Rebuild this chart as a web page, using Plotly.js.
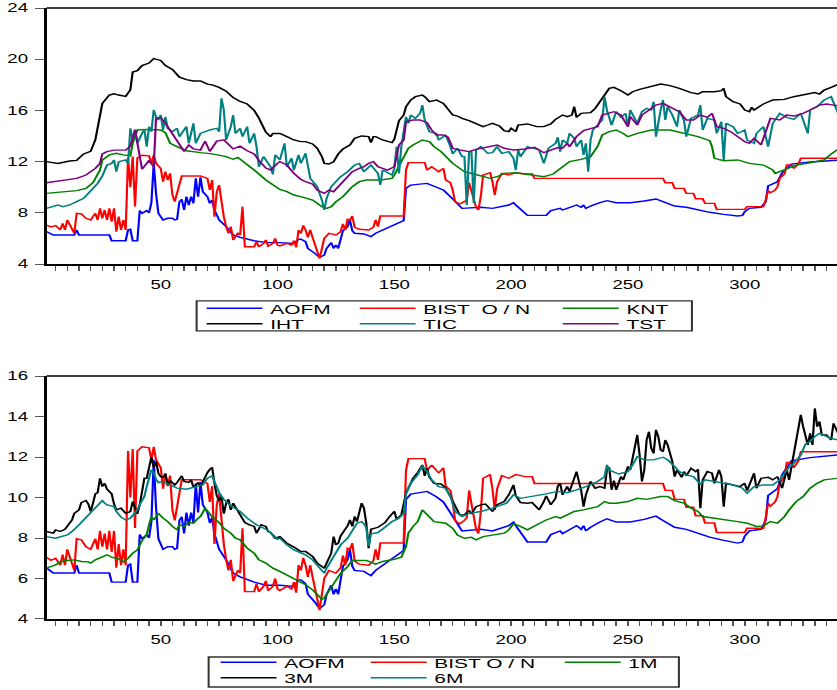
<!DOCTYPE html>
<html><head><meta charset="utf-8">
<script src="https://cdn.plot.ly/plotly-3.0.1.min.js"></script>
<style>
html,body{margin:0;padding:0;background:#fff;overflow:hidden;width:837px;height:690px}
#wrap{width:540px;height:690px;transform:scale(1.55,1);transform-origin:0 0}
</style></head><body><div id="wrap"><div id="chart"></div></div>
<script>
// ---------- data: [observation, value] ----------
const aofm = [[1,6.53],[4,6.27],[13,6.27],[14,6.66],[15,6.27],[28,6.27],[29,5.82],[35,5.82],[36,6.66],[37,6.71],[38,5.82],[40,5.82],[41,8.17],[42,7.96],[44,8.17],[45,8.0],[46,8.8],[47,11.86],[48,9.5],[49,7.96],[51,7.44],[53,7.57],[55,7.57],[56,7.44],[57,7.49],[58,8.87],[59,9.05],[60,8.22],[61,9.26],[62,8.61],[63,9.26],[64,8.74],[65,10.69],[66,9.26],[67,10.77],[68,9.65],[70,9.26],[71,8.74],[72,9.0],[73,8.22],[75,7.44],[78,6.92],[81,6.27],[84,6.08],[90,5.82],[95,5.67],[101,5.67],[107,5.61],[109,5.93],[110,5.93],[112,5.74],[113,5.22],[116,4.83],[118,4.52],[120,4.7],[121,5.22],[123,5.67],[124,5.22],[125,5.48],[126,5.22],[127,5.93],[128,6.6],[130,6.92],[131,7.44],[132,6.6],[133,6.4],[137,6.35],[140,6.14],[142,6.4],[145,6.66],[148,6.92],[151,7.18],[154,7.39],[155,9.91],[157,10.17],[164,10.3],[168,10.04],[171,9.78],[174,9.26],[177,8.69],[179,8.35],[187,8.43],[192,8.35],[199,8.61],[201,8.79],[202,8.61],[205,8.09],[207,7.8],[215,7.8],[217,8.17],[221,8.35],[222,8.22],[224,8.35],[228,8.61],[230,8.43],[231,8.61],[232,8.35],[234,8.53],[238,8.79],[241,8.95],[245,8.79],[251,8.79],[257,8.92],[262,9.08],[265,8.87],[270,8.53],[275,8.43],[280,8.22],[285,8.04],[291,7.88],[297,7.75],[299,7.8],[300,8.09],[302,8.35],[307,8.43],[309,8.87],[310,10.1],[314,10.43],[316,11.13],[318,11.47],[320,11.81],[328,11.97],[342,12.13]];

const bist = [[1,7.05],[3,6.9],[5,7.0],[7,6.66],[8,7.18],[9,6.66],[10,7.44],[12,6.66],[13,6.4],[14,7.96],[16,7.91],[18,7.57],[20,7.44],[22,7.96],[23,7.44],[24,8.35],[25,7.57],[26,8.22],[27,7.44],[28,8.35],[29,7.31],[30,8.35],[31,6.53],[32,7.7],[33,6.66],[34,7.44],[35,6.66],[36,12.3],[37,10.0],[38,12.4],[39,8.5],[40,12.3],[42,12.5],[45,12.45],[46,11.86],[47,12.5],[48,11.86],[50,11.47],[51,10.43],[52,11.21],[53,10.56],[54,11.08],[55,9.39],[56,8.87],[57,9.52],[58,10.3],[59,10.88],[67,10.88],[70,10.69],[71,9.78],[72,10.56],[73,7.7],[74,9.65],[75,10.17],[76,8.61],[77,7.7],[78,6.92],[79,6.4],[80,6.92],[81,5.88],[83,6.4],[84,6.27],[85,8.48],[86,5.35],[90,5.35],[91,5.74],[92,5.35],[94,5.61],[95,5.88],[96,5.4],[98,5.61],[99,6.0],[100,5.48],[101,5.41],[104,5.61],[106,5.48],[107,5.82],[108,5.3],[109,6.66],[110,6.4],[111,7.02],[112,6.66],[113,6.08],[114,6.66],[115,6.08],[116,5.48],[117,4.83],[118,4.44],[119,5.22],[120,6.0],[122,6.4],[125,6.27],[127,6.53],[128,7.13],[129,6.66],[130,7.49],[131,7.44],[132,7.75],[133,6.86],[135,6.71],[139,6.66],[141,6.86],[142,7.44],[143,6.92],[144,7.75],[154,7.75],[155,11.34],[156,11.92],[163,11.92],[164,11.34],[166,11.6],[169,11.21],[171,11.47],[172,10.56],[174,10.35],[175,9.78],[176,8.87],[178,8.69],[180,8.87],[181,9.0],[182,10.35],[183,9.78],[185,8.43],[186,8.22],[187,9.26],[188,10.95],[191,11.13],[192,10.43],[193,9.39],[194,10.43],[196,11.08],[199,10.95],[202,11.13],[206,11.03],[209,11.03],[210,10.69],[265,10.69],[266,10.35],[269,10.35],[270,9.91],[274,9.91],[275,9.52],[278,9.52],[279,9.1],[282,9.1],[283,8.74],[287,8.74],[288,8.27],[300,8.27],[301,8.48],[308,8.48],[309,9.0],[310,9.73],[311,9.57],[313,9.78],[314,10.04],[315,10.69],[317,11.03],[318,11.73],[320,11.73],[321,11.47],[323,11.81],[324,12.26],[342,12.26]];

const knt = [[1,9.52],[10,9.65],[14,9.73],[18,9.9],[21,10.35],[24,11.34],[25,12.13],[28,12.52],[31,12.65],[34,12.52],[37,12.44],[38,13.43],[40,14.47],[44,14.52],[50,14.47],[52,14.26],[54,13.43],[57,13.17],[61,12.85],[67,12.7],[72,12.6],[78,12.39],[81,12.18],[83,12.33],[85,12.07],[90,11.34],[95,10.56],[101,9.83],[104,9.65],[107,9.39],[110,9.26],[112,9.13],[115,9.0],[117,8.74],[119,8.48],[121,8.35],[123,8.48],[125,8.87],[128,9.26],[130,9.65],[132,10.04],[135,10.43],[138,10.56],[144,10.56],[149,10.69],[150,10.95],[152,11.6],[154,12.39],[156,13.04],[158,13.3],[161,13.56],[162,13.69],[165,13.56],[167,13.17],[170,12.78],[172,12.39],[175,11.86],[178,11.47],[180,11.21],[184,11.03],[188,10.82],[191,10.69],[194,10.82],[197,11.08],[202,11.13],[208,10.95],[214,10.82],[218,11.03],[220,11.3],[222,11.6],[225,12.0],[230,12.18],[234,12.39],[237,13.17],[239,14.08],[242,14.34],[245,14.47],[248,14.2],[250,13.95],[254,14.2],[260,14.47],[268,14.47],[274,14.2],[280,13.95],[285,13.64],[286,13.17],[287,12.26],[291,12.07],[297,12.13],[302,11.86],[308,11.73],[312,11.34],[313,11.08],[317,11.39],[322,11.73],[328,11.91],[334,12.13],[337,12.6],[342,13.2]];

const iht = [[1,12.0],[6,11.86],[11,12.05],[14,12.1],[17,12.6],[20,12.8],[22,13.7],[23,14.7],[24,16.0],[25,16.55],[28,17.2],[30,17.3],[32,17.2],[35,17.1],[37,17.6],[38,19.0],[40,19.1],[42,19.5],[45,19.7],[47,20.05],[50,19.9],[52,19.5],[55,19.2],[58,18.6],[61,18.4],[64,18.3],[67,18.3],[70,18.05],[72,18.0],[75,17.8],[78,17.5],[81,17.0],[84,16.7],[87,16.5],[90,16.0],[92,15.4],[95,14.3],[97,13.95],[98,14.2],[101,14.2],[104,13.95],[107,13.69],[110,13.56],[112,13.56],[115,13.38],[117,13.04],[119,12.39],[120,11.86],[122,11.81],[124,11.99],[126,12.6],[128,12.98],[131,13.3],[133,13.82],[136,14.0],[139,13.95],[140,13.48],[141,13.95],[142,13.95],[145,13.69],[149,13.48],[150,13.74],[151,14.47],[152,15.2],[154,15.64],[155,16.29],[157,16.81],[159,17.07],[162,17.2],[163,17.07],[165,16.68],[168,16.81],[171,16.55],[173,16.03],[175,15.64],[177,15.56],[179,15.38],[182,15.2],[185,14.99],[188,14.73],[190,14.86],[192,14.99],[195,14.78],[197,14.42],[199,14.34],[200,14.6],[202,14.34],[203,14.86],[207,14.94],[211,14.73],[214,14.73],[217,14.94],[219,15.3],[222,15.64],[224,15.51],[226,15.64],[227,16.29],[228,15.46],[230,15.77],[234,15.82],[236,16.16],[238,16.68],[240,17.2],[242,17.72],[244,17.8],[247,17.54],[250,17.2],[252,17.46],[255,17.64],[260,17.85],[264,18.06],[268,17.93],[272,17.72],[277,17.39],[280,17.28],[282,17.46],[287,17.46],[290,17.54],[291,17.72],[292,17.07],[295,16.68],[298,16.5],[300,16.03],[302,15.9],[303,16.24],[304,16.03],[308,16.5],[312,16.81],[317,16.86],[321,17.07],[325,17.2],[330,17.39],[332,17.28],[334,17.59],[337,17.8],[342,18.2]];

const tic = [[1,8.35],[6,8.61],[8,8.48],[11,8.61],[14,8.87],[17,9.13],[19,9.52],[21,9.91],[23,10.3],[25,10.88],[27,11.73],[29,11.86],[30,12.13],[31,11.21],[32,11.99],[35,12.13],[36,11.86],[37,14.6],[38,13.69],[39,14.47],[40,13.43],[42,14.2],[43,14.52],[44,13.17],[45,14.73],[46,14.34],[47,16.03],[48,15.5],[49,15.25],[50,15.64],[51,14.47],[52,15.5],[53,14.6],[55,14.34],[57,14.6],[58,13.95],[60,14.47],[61,14.73],[62,13.43],[64,14.99],[65,13.43],[67,14.2],[71,14.47],[74,14.6],[75,14.34],[76,16.94],[77,16.03],[78,13.69],[80,14.73],[81,15.64],[82,14.2],[84,14.6],[85,13.95],[87,14.73],[88,13.43],[90,14.2],[91,13.17],[92,11.6],[94,12.39],[95,12.13],[97,11.6],[98,11.0],[99,12.52],[101,12.13],[103,13.43],[104,11.6],[106,12.26],[107,11.34],[109,12.52],[110,11.86],[112,12.65],[114,10.69],[115,10.43],[117,10.04],[119,9.0],[120,8.22],[121,9.13],[123,10.04],[125,10.43],[127,10.82],[130,11.21],[133,11.73],[135,11.86],[137,11.21],[140,11.73],[143,11.08],[144,10.17],[145,11.34],[149,10.95],[150,11.47],[151,13.17],[152,11.08],[153,13.17],[154,14.2],[155,15.5],[156,14.99],[157,15.64],[159,15.38],[161,15.77],[162,16.42],[163,15.25],[165,14.34],[168,14.2],[169,13.69],[172,14.08],[174,13.17],[175,12.6],[177,13.04],[179,12.39],[180,12.4],[181,8.61],[182,12.78],[183,12.78],[184,8.74],[185,12.91],[187,13.17],[190,12.65],[192,12.7],[194,13.17],[196,12.65],[199,12.78],[201,12.26],[202,11.34],[203,12.91],[204,12.39],[207,13.17],[209,13.04],[212,12.91],[214,11.86],[216,13.04],[219,13.43],[220,13.9],[221,12.78],[222,13.69],[224,13.43],[225,14.2],[227,13.82],[228,13.17],[230,13.69],[231,12.52],[232,13.43],[233,11.21],[234,13.69],[235,14.47],[237,14.86],[239,15.25],[240,17.07],[241,16.03],[243,14.86],[245,15.9],[247,15.46],[249,15.77],[250,14.73],[251,16.03],[254,14.99],[256,15.9],[258,16.16],[260,16.03],[261,16.68],[262,13.95],[264,16.03],[265,16.81],[266,15.25],[267,16.29],[269,15.64],[271,14.73],[272,16.03],[274,15.2],[275,13.95],[277,15.38],[280,15.64],[281,16.42],[282,14.47],[284,15.38],[287,15.25],[288,14.2],[290,15.12],[291,12.13],[292,14.99],[295,14.73],[297,14.2],[300,14.47],[301,13.69],[304,13.43],[305,14.2],[308,14.73],[310,13.17],[312,14.99],[315,15.77],[318,15.46],[321,15.3],[324,15.77],[327,14.2],[328,16.03],[331,16.29],[334,16.81],[337,17.07],[338,16.68],[340,15.77],[342,15.9]];

const tst = [[1,10.35],[10,10.56],[14,10.69],[18,10.95],[22,11.47],[24,11.86],[25,12.6],[27,12.78],[30,12.9],[35,12.9],[37,13.2],[39,14.5],[41,12.1],[42,11.4],[45,12.1],[47,11.6],[48,15.4],[50,15.45],[52,15.0],[55,14.2],[57,13.7],[60,12.8],[62,13.3],[64,13.0],[67,12.9],[69,13.6],[71,12.8],[74,13.6],[77,13.7],[81,13.0],[84,13.2],[87,12.85],[90,12.6],[92,12.1],[95,11.5],[97,11.35],[100,11.86],[101,12.0],[104,11.73],[107,11.08],[110,10.61],[112,10.43],[115,10.25],[117,9.78],[120,9.52],[122,9.78],[124,9.65],[126,10.04],[128,10.43],[130,10.82],[132,11.21],[135,11.47],[137,11.6],[139,11.86],[141,12.0],[143,11.6],[147,11.34],[150,11.6],[151,12.6],[152,13.3],[154,13.69],[155,15.12],[158,15.25],[161,15.25],[164,15.04],[166,14.47],[168,14.08],[171,14.08],[173,13.9],[175,13.04],[178,12.91],[182,12.78],[185,12.96],[190,13.17],[194,13.3],[197,13.04],[201,12.91],[205,12.96],[210,13.12],[214,12.7],[217,12.91],[220,13.1],[222,13.04],[224,13.43],[225,13.17],[228,13.95],[231,14.42],[234,14.6],[237,14.73],[239,15.64],[244,15.9],[247,15.64],[250,14.73],[251,15.51],[254,14.86],[256,15.64],[260,16.16],[262,16.42],[265,16.55],[269,16.16],[272,15.9],[275,15.25],[278,15.25],[281,15.64],[284,15.46],[286,15.77],[288,14.73],[291,14.6],[294,14.34],[297,13.95],[300,13.56],[302,13.43],[304,13.82],[307,13.3],[309,14.34],[311,15.38],[315,15.25],[318,15.64],[321,15.56],[325,15.77],[328,16.03],[332,16.42],[335,16.5],[342,16.3]];

const m1 = [[1,6.51],[5,6.67],[7,6.82],[10,6.89],[13,6.92],[16,6.84],[19,6.82],[20,6.76],[22,6.92],[25,7.05],[27,7.17],[29,7.05],[31,6.97],[33,6.92],[34,6.82],[36,6.99],[38,7.25],[40,7.41],[42,7.88],[44,8.15],[45,8.65],[46,9.06],[47,8.89],[49,9.22],[51,8.98],[53,8.81],[55,8.57],[57,8.4],[58,8.65],[60,8.57],[62,8.76],[64,8.73],[66,8.98],[67,9.06],[69,9.47],[70,9.31],[72,9.06],[75,8.76],[77,8.48],[80,8.24],[82,7.99],[84,7.91],[87,7.5],[90,7.25],[92,6.92],[95,6.76],[98,6.51],[101,6.35],[104,6.18],[107,6.02],[110,5.85],[112,5.69],[115,5.44],[117,5.19],[119,4.98],[120,5.03],[122,5.41],[124,5.77],[127,6.26],[130,6.59],[132,6.89],[135,6.89],[138,6.89],[142,6.71],[145,6.84],[150,6.95],[153,7.05],[155,7.58],[156,8.24],[158,8.57],[160,8.81],[162,9.39],[165,9.06],[167,8.81],[172,8.73],[175,8.48],[177,8.15],[180,7.99],[183,8.04],[185,7.91],[188,8.07],[192,8.15],[197,8.24],[199,8.4],[201,8.7],[204,8.57],[207,8.4],[211,8.65],[215,8.89],[219,9.06],[221,8.98],[224,9.14],[227,9.31],[231,9.39],[234,9.47],[237,9.55],[240,9.8],[242,9.72],[245,9.72],[250,9.8],[254,9.96],[258,9.91],[264,10.05],[267,10.05],[270,9.85],[274,9.72],[277,9.47],[280,9.31],[282,9.06],[287,8.98],[291,8.93],[297,8.81],[301,8.73],[305,8.57],[308,8.6],[311,8.81],[314,8.73],[317,9.06],[319,9.39],[322,9.8],[325,10.05],[328,10.46],[331,10.7],[334,10.87],[340,10.95],[342,10.97]];

const m3 = [[1,8.32],[4,8.24],[5,8.4],[7,8.32],[9,8.43],[10,8.6],[12,8.89],[13,9.22],[15,9.39],[16,9.75],[18,9.85],[19,9.68],[20,9.31],[21,9.72],[22,10.18],[23,10.24],[24,10.95],[25,10.54],[26,10.7],[27,10.41],[29,10.18],[30,9.68],[31,9.39],[33,9.47],[35,9.22],[37,9.31],[38,9.8],[39,9.52],[40,9.19],[41,9.63],[42,10.46],[43,10.95],[44,10.95],[45,11.53],[46,11.99],[47,11.49],[48,11.77],[49,11.2],[50,11.03],[51,11.0],[52,11.16],[53,10.62],[54,10.84],[56,10.62],[57,10.74],[59,11.07],[60,10.79],[62,10.74],[63,10.87],[64,10.51],[66,10.74],[67,10.54],[68,10.79],[70,11.23],[71,11.39],[72,11.49],[73,10.7],[74,10.08],[75,9.85],[76,10.05],[77,9.2],[78,9.72],[79,9.91],[80,9.39],[81,9.72],[83,9.31],[85,8.98],[86,8.76],[88,8.65],[90,8.57],[91,8.24],[93,8.65],[95,8.57],[96,8.32],[97,8.27],[99,7.99],[101,8.07],[104,7.74],[107,7.55],[110,7.33],[112,7.33],[115,7.09],[117,6.76],[120,6.51],[121,6.76],[123,7.25],[124,8.07],[125,7.66],[126,7.74],[127,8.1],[130,8.6],[131,8.89],[132,8.57],[133,9.06],[134,8.81],[135,9.39],[136,9.72],[137,9.47],[138,8.73],[139,7.5],[140,8.43],[143,8.53],[146,8.76],[148,9.06],[150,9.31],[151,8.93],[153,9.14],[155,10.21],[157,10.67],[158,10.95],[160,11.23],[162,11.61],[163,11.07],[164,11.44],[165,11.0],[167,10.7],[170,10.67],[172,10.46],[174,10.05],[176,9.55],[178,9.14],[180,9.14],[182,9.36],[183,9.19],[185,9.55],[187,9.64],[189,9.68],[192,9.31],[194,9.64],[197,9.8],[199,10.13],[201,10.62],[202,10.08],[204,9.75],[207,9.72],[209,9.75],[212,9.39],[214,9.8],[215,10.08],[217,9.64],[219,9.96],[220,10.57],[221,10.7],[222,10.13],[224,10.54],[225,10.29],[227,10.87],[228,11.28],[229,10.79],[230,10.34],[231,9.55],[232,10.13],[234,10.79],[236,10.46],[238,10.54],[240,10.46],[241,11.36],[242,11.49],[243,10.38],[244,10.84],[245,10.38],[247,11.03],[248,10.87],[250,11.53],[251,11.36],[252,11.99],[254,13.09],[255,12.1],[256,10.79],[257,11.36],[258,12.84],[259,13.25],[260,12.43],[261,12.18],[262,13.34],[263,13.01],[264,12.35],[265,12.27],[266,12.84],[267,12.6],[269,11.77],[270,11.03],[271,11.36],[273,11.0],[274,11.28],[275,11.07],[277,11.44],[279,11.28],[280,11.39],[281,9.47],[282,10.87],[284,11.28],[286,11.2],[287,10.7],[289,11.36],[290,11.03],[291,9.55],[292,10.7],[295,10.62],[298,10.54],[300,10.7],[301,10.34],[304,11.2],[305,10.46],[307,10.95],[310,11.0],[312,10.87],[314,11.03],[316,10.46],[318,11.36],[319,10.87],[320,11.53],[322,12.84],[323,13.34],[324,14.08],[325,13.5],[327,12.6],[328,13.17],[329,12.6],[330,14.4],[331,13.5],[332,13.75],[333,13.09],[335,13.09],[337,12.84],[338,13.66],[340,13.17],[342,13.4]];

const m6 = [[1,8.07],[5,7.99],[10,8.15],[12,8.32],[15,8.65],[17,8.89],[18,9.06],[20,9.26],[22,9.52],[24,9.75],[25,9.85],[26,9.72],[27,9.64],[30,9.55],[31,9.31],[33,9.03],[35,8.89],[37,8.98],[38,9.14],[40,9.39],[41,9.64],[43,10.05],[44,10.54],[45,11.03],[46,11.36],[47,11.23],[48,10.9],[49,10.74],[51,10.79],[54,10.62],[57,10.46],[61,10.41],[65,10.51],[68,10.62],[70,10.95],[72,11.07],[73,10.79],[75,10.24],[77,9.91],[80,9.59],[84,9.31],[87,8.98],[91,8.65],[95,8.43],[97,8.27],[100,7.94],[101,7.99],[104,7.66],[107,7.41],[110,7.25],[112,7.17],[115,6.92],[117,6.67],[120,6.26],[121,6.51],[123,6.92],[125,7.33],[127,7.66],[130,7.99],[132,8.37],[134,8.73],[136,8.81],[137,8.7],[138,8.5],[139,7.6],[140,8.2],[143,8.27],[146,8.53],[149,8.81],[152,8.98],[154,9.22],[155,10.18],[157,10.7],[160,11.12],[162,11.56],[164,11.28],[166,10.87],[169,10.54],[172,10.46],[174,10.05],[176,9.31],[179,9.06],[182,9.22],[187,9.31],[192,9.47],[198,9.72],[201,10.13],[204,9.96],[209,10.05],[215,10.18],[220,10.3],[224,10.24],[228,10.38],[232,10.54],[237,10.79],[240,11.03],[241,11.61],[242,11.36],[246,11.16],[250,11.28],[252,11.61],[254,12.02],[257,11.86],[261,11.86],[265,11.99],[267,11.86],[270,11.53],[272,11.28],[275,11.12],[278,11.03],[281,10.67],[283,10.87],[287,10.79],[291,10.7],[295,10.62],[299,10.46],[301,10.21],[304,10.54],[308,10.62],[312,10.62],[315,10.87],[318,11.36],[321,11.69],[324,12.1],[326,12.64],[328,12.76],[330,13.01],[332,13.17],[335,13.01],[337,12.92],[340,12.84],[342,12.9]];

// legend labels
const topNames = ['AOFM', 'BIST\u00a0 O / N', 'KNT', 'IHT', 'TIC', 'TST'];
const botNames = ['AOFM', 'BIST O / N', '1M', '3M', '6M'];
const topColors = ['#0000ff', '#ff0000', '#008000', '#000000', '#008080', '#800080'];
const botColors = ['#0000ff', '#ff0000', '#008000', '#000000', '#008080'];

// ---------- styling ----------
const FONT = 'Liberation Sans, Arial, sans-serif';
const S = 1.55; // horizontal stretch of the original graphic

function trace(pairs, name, color, xa, ya, leg) {
  return {
    type: 'scatter', mode: 'lines',
    x: pairs.map(p => p[0]), y: pairs.map(p => p[1]),
    name: name, xaxis: xa, yaxis: ya, legend: leg,
    line: {color: color, width: 1.4},
    hoverinfo: 'skip'
  };
}

const topSeries = [aofm, bist, knt, iht, tic, tst];
const botSeries = [aofm, bist, m1, m3, m6];
const data = [];
topSeries.forEach((s, i) => data.push(trace(s, topNames[i], topColors[i], 'x', 'y', i === 0 ? 'legend' : 'legend' + (i + 1))));
botSeries.forEach((s, i) => data.push(trace(s, botNames[i], botColors[i], 'x2', 'y2', 'legend' + (i + 7))));

// legend slots (paper coords): columns / rows
const topLegX = [0.1928, 0.3865, 0.6434];
const topLegY = [0.5082, 0.4828];
const botLegX = [0.2105, 0.4004, 0.6459];
const botLegY = [-0.0712, -0.0966];

function legendBox(x, y) {
  return {
    x: x, y: y, xanchor: 'left', yanchor: 'middle',
    bgcolor: 'rgba(0,0,0,0)', borderwidth: 0,
    itemwidth: 36, orientation: 'h',
    font: {family: FONT, size: 13.5, color: '#000'},
    itemclick: false, itemdoubleclick: false
  };
}

const xaxisBase = {
  range: [1.1, 339.5], tick0: 0, dtick: 50,
  ticks: 'outside', ticklen: 5, tickwidth: 1, tickcolor: '#555',
  minor: {dtick: 5, tick0: 0, ticks: 'outside', ticklen: 5, tickwidth: 1, tickcolor: '#555'},
  showline: true, linecolor: '#000', linewidth: 1.5,
  showgrid: false, zeroline: false,
  tickfont: {family: FONT, size: 12, color: '#000'},
  ticklabelstandoff: 4, fixedrange: true
};
const yaxisBase = {
  ticks: 'outside', ticklen: 6, tickwidth: 1, tickcolor: '#555',
  showline: true, linecolor: '#000', linewidth: 1.5,
  showgrid: false, zeroline: false,
  tickfont: {family: FONT, size: 12, color: '#000'},
  ticklabelstandoff: 2, fixedrange: true
};

const layout = {
  width: 540, height: 690,
  margin: {l: 47 / S, r: 0, t: 8, b: 71, autoexpand: false},
  paper_bgcolor: '#fff', plot_bgcolor: '#fff',
  font: {family: FONT, size: 12, color: '#000'},
  showlegend: true,
  xaxis: Object.assign({}, xaxisBase, {anchor: 'y', domain: [0, 1]}),
  yaxis: Object.assign({}, yaxisBase, {anchor: 'x', domain: [0.581, 1], range: [4, 24], tick0: 4, dtick: 4}),
  xaxis2: Object.assign({}, xaxisBase, {anchor: 'y2', domain: [0, 1]}),
  yaxis2: Object.assign({}, yaxisBase, {anchor: 'x2', domain: [0, 0.3977], range: [4, 16], tick0: 4, dtick: 2}),
  shapes: [
    {type: 'line', xref: 'paper', yref: 'y domain', x0: 0, x1: 1, y0: 1, y1: 1, line: {color: '#000', width: 1.5}},
    {type: 'line', xref: 'paper', yref: 'y2 domain', x0: 0, x1: 1, y0: 1, y1: 1, line: {color: '#000', width: 1.5}},
    {type: 'rect', xref: 'paper', yref: 'paper', x0: 0.1899, x1: 0.8165, y0: 0.4714, y1: 0.5205, line: {color: '#333', width: 1.3}},
    {type: 'rect', xref: 'paper', yref: 'paper', x0: 0.2051, x1: 0.8, y0: -0.1113, y1: -0.0622, line: {color: '#333', width: 1.3}}
  ]
};

// place the 11 single-entry legends on a 3-column grid
for (let i = 0; i < 6; i++) {
  const key = i === 0 ? 'legend' : 'legend' + (i + 1);
  layout[key] = legendBox(topLegX[i % 3], topLegY[Math.floor(i / 3)]);
}
for (let i = 0; i < 5; i++) {
  layout['legend' + (i + 7)] = legendBox(botLegX[i % 3], botLegY[Math.floor(i / 3)]);
}

Plotly.newPlot('chart', data, layout, {displayModeBar: false, staticPlot: true});
</script></body></html>
